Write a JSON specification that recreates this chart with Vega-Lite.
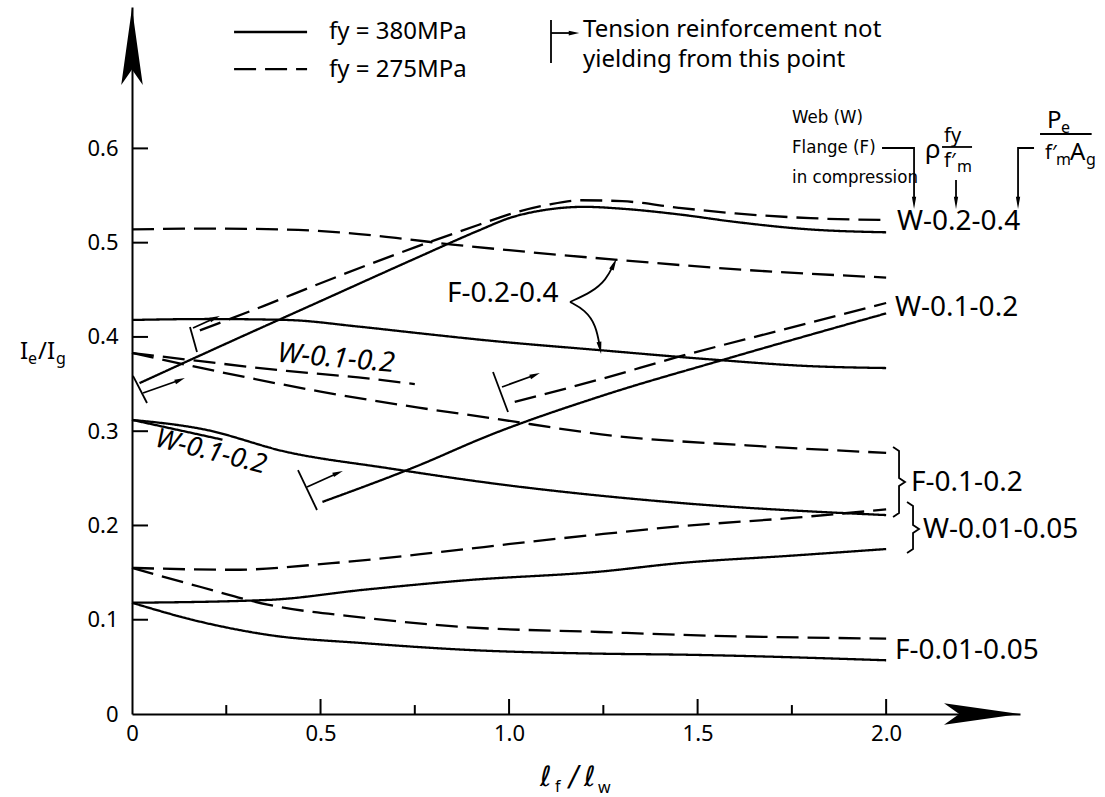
{
  "$schema": "https://vega.github.io/schema/vega-lite/v6.json",
  "width": 888,
  "height": 707,
  "autosize": {"type": "none"},
  "padding": {"left": 132, "top": 7, "right": 85, "bottom": 83},
  "background": "white",
  "config": {"view": {"stroke": null}, "font": "Noto Sans"},
  "datasets": {
    "curves": [
      {"id":"W24s","fy":"380","x":0.02,"y":0.351},{"id":"W24s","fy":"380","x":0.25,"y":0.393},{"id":"W24s","fy":"380","x":0.5,"y":0.438},{"id":"W24s","fy":"380","x":0.75,"y":0.483},{"id":"W24s","fy":"380","x":0.92,"y":0.513},{"id":"W24s","fy":"380","x":1.0,"y":0.526},{"id":"W24s","fy":"380","x":1.1,"y":0.535},{"id":"W24s","fy":"380","x":1.2,"y":0.538},{"id":"W24s","fy":"380","x":1.3,"y":0.536},{"id":"W24s","fy":"380","x":1.45,"y":0.530},{"id":"W24s","fy":"380","x":1.6,"y":0.522},{"id":"W24s","fy":"380","x":1.8,"y":0.514},{"id":"W24s","fy":"380","x":2.0,"y":0.511},
      {"id":"W24d","fy":"275","x":0.18,"y":0.407},{"id":"W24d","fy":"275","x":0.35,"y":0.433},{"id":"W24d","fy":"275","x":0.5,"y":0.457},{"id":"W24d","fy":"275","x":0.75,"y":0.495},{"id":"W24d","fy":"275","x":0.92,"y":0.519},{"id":"W24d","fy":"275","x":1.0,"y":0.530},{"id":"W24d","fy":"275","x":1.1,"y":0.540},{"id":"W24d","fy":"275","x":1.19,"y":0.545},{"id":"W24d","fy":"275","x":1.3,"y":0.544},{"id":"W24d","fy":"275","x":1.45,"y":0.537},{"id":"W24d","fy":"275","x":1.6,"y":0.531},{"id":"W24d","fy":"275","x":1.8,"y":0.526},{"id":"W24d","fy":"275","x":2.0,"y":0.524},
      {"id":"F24d","fy":"275","x":0,"y":0.514},{"id":"F24d","fy":"275","x":0.2,"y":0.515},{"id":"F24d","fy":"275","x":0.4,"y":0.514},{"id":"F24d","fy":"275","x":0.55,"y":0.511},{"id":"F24d","fy":"275","x":0.7,"y":0.505},{"id":"F24d","fy":"275","x":0.85,"y":0.498},{"id":"F24d","fy":"275","x":1.0,"y":0.492},{"id":"F24d","fy":"275","x":1.28,"y":0.482},{"id":"F24d","fy":"275","x":1.63,"y":0.471},{"id":"F24d","fy":"275","x":2.0,"y":0.463},
      {"id":"F24s","fy":"380","x":0,"y":0.418},{"id":"F24s","fy":"380","x":0.2,"y":0.419},{"id":"F24s","fy":"380","x":0.41,"y":0.418},{"id":"F24s","fy":"380","x":0.6,"y":0.411},{"id":"F24s","fy":"380","x":0.76,"y":0.404},{"id":"F24s","fy":"380","x":0.95,"y":0.396},{"id":"F24s","fy":"380","x":1.24,"y":0.386},{"id":"F24s","fy":"380","x":1.54,"y":0.376},{"id":"F24s","fy":"380","x":1.8,"y":0.369},{"id":"F24s","fy":"380","x":2.0,"y":0.367},
      {"id":"W12d1","fy":"275","x":0,"y":0.383},{"id":"W12d1","fy":"275","x":0.145,"y":0.376},{"id":"W12d1","fy":"275","x":0.41,"y":0.364},{"id":"W12d1","fy":"275","x":0.6,"y":0.357},{"id":"W12d1","fy":"275","x":0.75,"y":0.350},
      {"id":"W12d2","fy":"275","x":1.015,"y":0.331},{"id":"W12d2","fy":"275","x":1.25,"y":0.356},{"id":"W12d2","fy":"275","x":1.45,"y":0.379},{"id":"W12d2","fy":"275","x":1.71,"y":0.406},{"id":"W12d2","fy":"275","x":2.0,"y":0.436},
      {"id":"W12s1","fy":"380","x":0,"y":0.312},{"id":"W12s1","fy":"380","x":0.24,"y":0.291},
      {"id":"W12s2","fy":"380","x":0.505,"y":0.225},{"id":"W12s2","fy":"380","x":0.75,"y":0.262},{"id":"W12s2","fy":"380","x":0.95,"y":0.296},{"id":"W12s2","fy":"380","x":1.25,"y":0.338},{"id":"W12s2","fy":"380","x":1.57,"y":0.376},{"id":"W12s2","fy":"380","x":2.0,"y":0.425},
      {"id":"F12d","fy":"275","x":0,"y":0.383},{"id":"F12d","fy":"275","x":0.232,"y":0.363},{"id":"F12d","fy":"275","x":0.5,"y":0.342},{"id":"F12d","fy":"275","x":0.76,"y":0.325},{"id":"F12d","fy":"275","x":0.95,"y":0.314},{"id":"F12d","fy":"275","x":1.28,"y":0.295},{"id":"F12d","fy":"275","x":1.63,"y":0.285},{"id":"F12d","fy":"275","x":2.0,"y":0.277},
      {"id":"F12s","fy":"380","x":0,"y":0.312},{"id":"F12s","fy":"380","x":0.19,"y":0.302},{"id":"F12s","fy":"380","x":0.41,"y":0.278},{"id":"F12s","fy":"380","x":0.675,"y":0.261},{"id":"F12s","fy":"380","x":0.95,"y":0.245},{"id":"F12s","fy":"380","x":1.45,"y":0.224},{"id":"F12s","fy":"380","x":2.0,"y":0.211},
      {"id":"W0d","fy":"275","x":0,"y":0.155},{"id":"W0d","fy":"275","x":0.27,"y":0.153},{"id":"W0d","fy":"275","x":0.53,"y":0.160},{"id":"W0d","fy":"275","x":0.8,"y":0.171},{"id":"W0d","fy":"275","x":1.06,"y":0.183},{"id":"W0d","fy":"275","x":1.25,"y":0.191},{"id":"W0d","fy":"275","x":1.45,"y":0.199},{"id":"W0d","fy":"275","x":1.75,"y":0.208},{"id":"W0d","fy":"275","x":2.0,"y":0.217},
      {"id":"W0s","fy":"380","x":0,"y":0.118},{"id":"W0s","fy":"380","x":0.36,"y":0.121},{"id":"W0s","fy":"380","x":0.62,"y":0.132},{"id":"W0s","fy":"380","x":0.89,"y":0.142},{"id":"W0s","fy":"380","x":1.24,"y":0.151},{"id":"W0s","fy":"380","x":1.45,"y":0.160},{"id":"W0s","fy":"380","x":1.75,"y":0.168},{"id":"W0s","fy":"380","x":2.0,"y":0.175},
      {"id":"F0d","fy":"275","x":0,"y":0.155},{"id":"F0d","fy":"275","x":0.18,"y":0.135},{"id":"F0d","fy":"275","x":0.36,"y":0.116},{"id":"F0d","fy":"275","x":0.62,"y":0.102},{"id":"F0d","fy":"275","x":0.89,"y":0.092},{"id":"F0d","fy":"275","x":1.24,"y":0.087},{"id":"F0d","fy":"275","x":1.45,"y":0.084},{"id":"F0d","fy":"275","x":2.0,"y":0.080},
      {"id":"F0s","fy":"380","x":0,"y":0.118},{"id":"F0s","fy":"380","x":0.18,"y":0.098},{"id":"F0s","fy":"380","x":0.36,"y":0.084},{"id":"F0s","fy":"380","x":0.62,"y":0.075},{"id":"F0s","fy":"380","x":0.89,"y":0.068},{"id":"F0s","fy":"380","x":1.24,"y":0.064},{"id":"F0s","fy":"380","x":1.45,"y":0.063},{"id":"F0s","fy":"380","x":2.0,"y":0.057},
      {"id":"leg380","fy":"380","x":0.2707,"y":0.7235},{"id":"leg380","fy":"380","x":0.4643,"y":0.7235},
      {"id":"leg275","fy":"275","x":0.2707,"y":0.6842},{"id":"leg275","fy":"275","x":0.4643,"y":0.6842}
    ],
    "ticks": [
      {"x":0.25,"y":0,"x2":0.25,"y2":0.0095},{"x":0.5,"y":0,"x2":0.5,"y2":0.0159},{"x":0.75,"y":0,"x2":0.75,"y2":0.0095},{"x":1.0,"y":0,"x2":1.0,"y2":0.0159},
      {"x":1.25,"y":0,"x2":1.25,"y2":0.0095},{"x":1.5,"y":0,"x2":1.5,"y2":0.0159},{"x":1.75,"y":0,"x2":1.75,"y2":0.0095},{"x":2.0,"y":0,"x2":2.0,"y2":0.0159},
      {"x":0,"y":0.1,"x2":0.0424,"y2":0.1},{"x":0,"y":0.2,"x2":0.0424,"y2":0.2},{"x":0,"y":0.3,"x2":0.0424,"y2":0.3},{"x":0,"y":0.4,"x2":0.0424,"y2":0.4},{"x":0,"y":0.5,"x2":0.0424,"y2":0.5},{"x":0,"y":0.6,"x2":0.0424,"y2":0.6}
    ],
    "alines": [
      {"id":"At","o":1,"x":0.0027,"y":0.3586},{"id":"At","o":2,"x":0.0398,"y":0.3299},
      {"id":"Aa","o":1,"x":0.0292,"y":0.3405},{"id":"Aa","o":2,"x":0.1273,"y":0.3543},
      {"id":"Bt","o":1,"x":0.1538,"y":0.4105},{"id":"Bt","o":2,"x":0.1724,"y":0.3840},
      {"id":"Ba","o":1,"x":0.1618,"y":0.4095},{"id":"Ba","o":2,"x":0.2201,"y":0.4201},
      {"id":"Ct","o":1,"x":0.4402,"y":0.2588},{"id":"Ct","o":2,"x":0.4906,"y":0.2164},
      {"id":"Ca","o":1,"x":0.4641,"y":0.2408},{"id":"Ca","o":2,"x":0.5463,"y":0.2557},
      {"id":"Dt","o":1,"x":0.9574,"y":0.3628},{"id":"Dt","o":2,"x":0.9972,"y":0.3204},
      {"id":"Da","o":1,"x":0.9813,"y":0.3469},{"id":"Da","o":2,"x":1.0688,"y":0.3596},
      {"id":"Lt","o":1,"x":1.1112,"y":0.7362},{"id":"Lt","o":2,"x":1.1112,"y":0.6906},
      {"id":"La","o":1,"x":1.1112,"y":0.7224},{"id":"La","o":2,"x":1.1722,"y":0.7224},
      {"id":"Wb","o":1,"x":1.9891,"y":0.6004},{"id":"Wb","o":2,"x":2.0740,"y":0.6004},{"id":"Wb","o":3,"x":2.0740,"y":0.5421},
      {"id":"Ra","o":1,"x":2.1853,"y":0.5665},{"id":"Ra","o":2,"x":2.1853,"y":0.5421},
      {"id":"Pb","o":1,"x":2.3922,"y":0.6004},{"id":"Pb","o":2,"x":2.3498,"y":0.6004},{"id":"Pb","o":3,"x":2.3498,"y":0.5421},
      {"id":"Rbar","o":1,"x":2.1482,"y":0.6015},{"id":"Rbar","o":2,"x":2.2278,"y":0.6015},
      {"id":"Pbar","o":1,"x":2.4081,"y":0.6153},{"id":"Pbar","o":2,"x":2.5450,"y":0.6153},
      {"id":"Fbr","o":1,"x":2.0183,"y":0.2832},{"id":"Fbr","o":2,"x":2.0342,"y":0.2790},{"id":"Fbr","o":3,"x":2.0342,"y":0.2504},{"id":"Fbr","o":4,"x":2.0501,"y":0.2461},{"id":"Fbr","o":5,"x":2.0342,"y":0.2419},{"id":"Fbr","o":6,"x":2.0342,"y":0.2132},{"id":"Fbr","o":7,"x":2.0183,"y":0.2090},
      {"id":"Wbr","o":1,"x":2.0554,"y":0.2249},{"id":"Wbr","o":2,"x":2.0713,"y":0.2207},{"id":"Wbr","o":3,"x":2.0713,"y":0.2005},{"id":"Wbr","o":4,"x":2.0872,"y":0.1963},{"id":"Wbr","o":5,"x":2.0713,"y":0.1920},{"id":"Wbr","o":6,"x":2.0713,"y":0.1750},{"id":"Wbr","o":7,"x":2.0554,"y":0.1708}
    ],
    "arcs": [
      {"id":"up","o":1,"x":1.1616,"y":0.4371},{"id":"up","o":2,"x":1.2199,"y":0.4477},{"id":"up","o":3,"x":1.2571,"y":0.4604},{"id":"up","o":4,"x":1.2783,"y":0.4774},
      {"id":"dn","o":1,"x":1.1616,"y":0.4371},{"id":"dn","o":2,"x":1.2014,"y":0.4286},{"id":"dn","o":3,"x":1.2306,"y":0.4127},{"id":"dn","o":4,"x":1.2412,"y":0.3883}
    ],
    "txt24": [
      {"t":"fy = 380MPa","x":0.5226,"y":0.7235},
      {"t":"fy = 275MPa","x":0.5226,"y":0.6832},
      {"t":"Tension reinforcement not","x":1.1961,"y":0.7256},
      {"t":"yielding from this point","x":1.1961,"y":0.6938},
      {"t":"P","x":2.4267,"y":0.6291},
      {"t":"A","x":2.4877,"y":0.5951},
      {"t":"I","x":-0.2970,"y":0.3840},
      {"t":"/I","x":-0.2493,"y":0.3840}
    ],
    "rho": [{"t":"ρ","x":2.1031,"y":0.5983}],
    "block": [
      {"t":"Web (W)","x":1.7504,"y":0.6333},
      {"t":"Flange (F)","x":1.7504,"y":0.6015},
      {"t":"in compression","x":1.7504,"y":0.5697}
    ],
    "clabels": [
      {"t":"W-0.2-0.4","x":2.0288,"y":0.5219},
      {"t":"W-0.1-0.2","x":2.0235,"y":0.4307},
      {"t":"F-0.1-0.2","x":2.0660,"y":0.2450},
      {"t":"W-0.01-0.05","x":2.0978,"y":0.1952},
      {"t":"F-0.01-0.05","x":2.0235,"y":0.0668},
      {"t":"F-0.2-0.4","x":0.8354,"y":0.4455}
    ],
    "txt20": [
      {"t":"fy","x":2.1535,"y":0.6132},
      {"t":"f′","x":2.1535,"y":0.5866},
      {"t":"f′","x":2.4213,"y":0.5951}
    ],
    "sub15": [
      {"t":"m","x":2.1880,"y":0.5803},
      {"t":"e","x":2.4638,"y":0.6217},
      {"t":"m","x":2.4505,"y":0.5877},
      {"t":"g","x":2.5301,"y":0.5877},
      {"t":"e","x":-0.2758,"y":0.3766},
      {"t":"g","x":-0.2016,"y":0.3766},
      {"t":"f","x":1.1218,"y":-0.0770},
      {"t":"w","x":1.2359,"y":-0.0780}
    ],
    "ital": [
      {"t":"ℓ","x":1.0821,"y":-0.068},
      {"t":"/","x":1.159,"y":-0.068},
      {"t":"ℓ","x":1.1988,"y":-0.068}
    ],
    "wlab1": [{"t":"W-0.1-0.2","x":0.541,"y":0.3766}],
    "wlab2": [{"t":"W-0.1-0.2","x":0.2095,"y":0.2779}],
    "xarrow": [{"x":2.2543,"y":0}],
    "yarrow": [{"x":0,"y":0.7081}],
    "yheads": [{"x":0.1273,"y":0.3543},{"x":0.2201,"y":0.4201},{"x":0.5463,"y":0.2557},{"x":1.0688,"y":0.3596}],
    "lhead": [{"x":1.1722,"y":0.7224}],
    "dheads": [{"x":2.0740,"y":0.5421},{"x":2.1853,"y":0.5421},{"x":2.3498,"y":0.5421}],
    "uphead": [{"x":1.2783,"y":0.4774}],
    "dnhead": [{"x":1.2412,"y":0.3883}]
  },
  "encoding": {
    "x": {"field": "x", "type": "quantitative",
      "scale": {"domain": [0, 2.355], "nice": false, "zero": false},
      "axis": {"values": [0, 0.5, 1, 1.5, 2], "ticks": false, "grid": false, "domainColor": "black", "domainWidth": 2,
        "labelFontSize": 22, "labelFont": "Noto Sans", "labelColor": "black", "labelPadding": 9, "labelFlush": false, "labelOverlap": false,
        "labelExpr": "datum.value == 0 ? '0' : format(datum.value, '.1f')", "title": null}},
    "y": {"field": "y", "type": "quantitative",
      "scale": {"domain": [0, 0.75], "nice": false, "zero": false},
      "axis": {"values": [0, 0.1, 0.2, 0.3, 0.4, 0.5, 0.6], "ticks": false, "grid": false, "domainColor": "black", "domainWidth": 2,
        "labelFontSize": 22, "labelFont": "Noto Sans", "labelColor": "black", "labelPadding": 14, "labelFlush": false, "labelOverlap": false,
        "labelExpr": "datum.value == 0 ? '0' : format(datum.value, '.1f')", "title": null}}
  },
  "layer": [
    {"data": {"name": "curves"},
     "mark": {"type": "line", "color": "black", "strokeWidth": 2.3, "interpolate": "monotone"},
     "encoding": {"detail": {"field": "id"},
       "strokeDash": {"field": "fy", "type": "nominal", "scale": {"domain": ["380", "275"], "range": [[1, 0], [22, 9]]}, "legend": null}}},
    {"data": {"name": "ticks"},
     "mark": {"type": "rule", "color": "black", "strokeWidth": 2},
     "encoding": {"x2": {"field": "x2"}, "y2": {"field": "y2"}}},
    {"data": {"name": "alines"},
     "mark": {"type": "line", "color": "black", "strokeWidth": 1.8},
     "encoding": {"detail": {"field": "id"}, "order": {"field": "o", "type": "quantitative"}}},
    {"data": {"name": "arcs"},
     "mark": {"type": "line", "color": "black", "strokeWidth": 1.8, "interpolate": "basis"},
     "encoding": {"detail": {"field": "id"}, "order": {"field": "o", "type": "quantitative"}}},
    {"data": {"name": "xarrow"},
     "mark": {"type": "point", "shape": "M 1 0 L -1 -0.28 L -0.6 0 L -1 0.28 Z", "size": 5776, "filled": true, "color": "black", "opacity": 1, "strokeWidth": 0}},
    {"data": {"name": "yarrow"},
     "mark": {"type": "point", "shape": "M 0 -1 L -0.28 1 L 0 0.6 L 0.28 1 Z", "size": 5929, "filled": true, "color": "black", "opacity": 1, "strokeWidth": 0}},
    {"data": {"name": "yheads"},
     "mark": {"type": "point", "shape": "M 1 0 L -1 -0.45 L -1 0.45 Z", "size": 110, "angle": -22, "filled": true, "color": "black", "opacity": 1, "strokeWidth": 0}},
    {"data": {"name": "lhead"},
     "mark": {"type": "point", "shape": "M 1 0 L -1 -0.45 L -1 0.45 Z", "size": 110, "filled": true, "color": "black", "opacity": 1, "strokeWidth": 0}},
    {"data": {"name": "dheads"},
     "mark": {"type": "point", "shape": "M 0 1 L -0.35 -1 L 0.35 -1 Z", "size": 150, "filled": true, "color": "black", "opacity": 1, "strokeWidth": 0}},
    {"data": {"name": "uphead"},
     "mark": {"type": "point", "shape": "M 1 0 L -1 -0.4 L -1 0.4 Z", "size": 150, "angle": -65, "filled": true, "color": "black", "opacity": 1, "strokeWidth": 0}},
    {"data": {"name": "dnhead"},
     "mark": {"type": "point", "shape": "M 1 0 L -1 -0.4 L -1 0.4 Z", "size": 150, "angle": 80, "filled": true, "color": "black", "opacity": 1, "strokeWidth": 0}},
    {"data": {"name": "txt24"},
     "mark": {"type": "text", "align": "left", "baseline": "middle", "fontSize": 24, "font": "Noto Sans", "color": "black"},
     "encoding": {"text": {"field": "t"}}},
    {"data": {"name": "rho"},
     "mark": {"type": "text", "align": "left", "baseline": "middle", "fontSize": 26, "font": "Noto Sans", "color": "black"},
     "encoding": {"text": {"field": "t"}}},
    {"data": {"name": "block"},
     "mark": {"type": "text", "align": "left", "baseline": "middle", "fontSize": 18.5, "font": "Liberation Sans Narrow, DejaVu Sans Condensed, Noto Sans", "color": "black"},
     "encoding": {"text": {"field": "t"}}},
    {"data": {"name": "clabels"},
     "mark": {"type": "text", "align": "left", "baseline": "middle", "fontSize": 28, "font": "Noto Sans", "color": "black"},
     "encoding": {"text": {"field": "t"}}},
    {"data": {"name": "txt20"},
     "mark": {"type": "text", "align": "left", "baseline": "middle", "fontSize": 20, "font": "Noto Sans", "color": "black"},
     "encoding": {"text": {"field": "t"}}},
    {"data": {"name": "sub15"},
     "mark": {"type": "text", "align": "left", "baseline": "middle", "fontSize": 16, "font": "Noto Sans", "color": "black"},
     "encoding": {"text": {"field": "t"}}},
    {"data": {"name": "ital"},
     "mark": {"type": "text", "align": "left", "baseline": "middle", "fontSize": 28, "font": "DejaVu Sans", "fontStyle": "italic", "color": "black"},
     "encoding": {"text": {"field": "t"}}},
    {"data": {"name": "wlab1"},
     "mark": {"type": "text", "align": "center", "baseline": "middle", "fontSize": 28, "font": "Noto Sans", "fontStyle": "italic", "angle": 5, "color": "black"},
     "encoding": {"text": {"field": "t"}}},
    {"data": {"name": "wlab2"},
     "mark": {"type": "text", "align": "center", "baseline": "middle", "fontSize": 27, "font": "Noto Sans", "fontStyle": "italic", "angle": 14, "color": "black"},
     "encoding": {"text": {"field": "t"}}}
  ]
}
